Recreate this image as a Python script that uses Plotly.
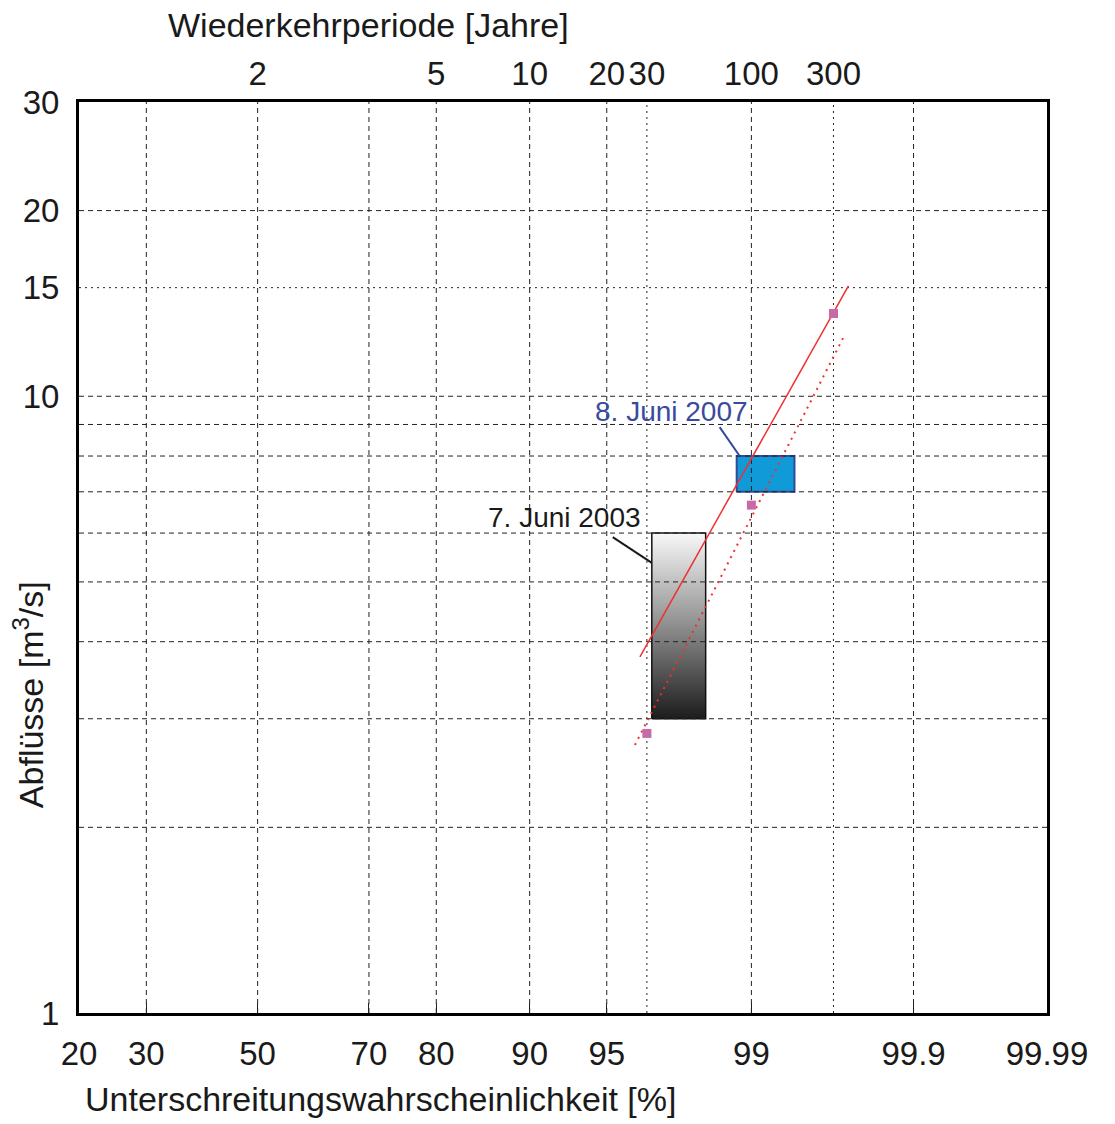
import math
from statistics import NormalDist
import plotly.graph_objects as go

# ---------------- data ----------------
prob_ticks = [20, 30, 50, 70, 80, 90, 95, 99, 99.9, 99.99]          # %
prob_labels = ["20", "30", "50", "70", "80", "90", "95", "99", "99.9", "99.99"]
period_ticks = [2, 5, 10, 20, 30, 100, 300]                          # years
period_labels = ["2", "5", "10", "20", "30", "100", "300"]
period_dotted_grid = [30, 300]
q_ticks = [1, 10, 15, 20, 30]                                        # m3/s
q_labels = ["1", "10", "15", "20", "30"]
q_grid_dashed = [2, 3, 4, 5, 6, 7, 8, 9, 10, 20]
q_grid_dotted = [15]

fit_T = [27.9, 372]            # solid red line
fit_Q = [3.78, 15.1]
fit2_T = [26.5, 346]           # dotted red line
fit2_Q = [2.72, 12.46]
pts_T = [30, 100, 300]         # markers
pts_Q = [2.84, 6.66, 13.62]

ev2003_T = [31.6, 57.5]        # event box 7. Juni 2003
ev2003_Q = [3, 6]
ev2007_T = [83.3, 175]         # event box 8. Juni 2007
ev2007_Q = [7, 8]

lab2003 = "7. Juni 2003"
lab2003_T, lab2003_Q = 28.8, 6.35
lead2003_T = [21.2, 31.6]
lead2003_Q = [5.91, 5.37]
lab2007 = "8. Juni 2007"
lab2007_T, lab2007_Q = 97.8, 9.46
lead2007_T = [67.8, 86.4]
lead2007_Q = [8.91, 8.0]

# ---------------- scales ----------------
ND = NormalDist()
def zp(p): return ND.inv_cdf(p / 100.0)
def zT(T): return ND.inv_cdf(1.0 - 1.0 / T)
def lq(q): return math.log10(q)

xr = [zp(prob_ticks[0]), zp(prob_ticks[-1])]
yr = [lq(1), lq(30)]

FONT = "Liberation Sans, Arial, Helvetica, sans-serif"
fig = go.Figure()

def box(Ts, Qs):
    x0, x1 = zT(Ts[0]), zT(Ts[1])
    y0, y1 = lq(Qs[0]), lq(Qs[1])
    return [x0, x1, x1, x0, x0], [y0, y0, y1, y1, y0]

bx, by = box(ev2003_T, ev2003_Q)
fig.add_trace(go.Scatter(x=bx, y=by, mode="lines", fill="toself",
                         fillgradient=dict(type="vertical",
                                           colorscale=[[0, "#1c1c1c"], [0.5, "#8e8e8e"], [1, "#f8f8f8"]]),
                         line=dict(color="#111111", width=1.5), hoverinfo="skip", showlegend=False))
bx, by = box(ev2007_T, ev2007_Q)
fig.add_trace(go.Scatter(x=bx, y=by, mode="lines", fill="toself", fillcolor="#109bd8",
                         line=dict(color="#34499c", width=2), hoverinfo="skip", showlegend=False))

# grid lines (drawn as traces so they lie on top of the boxes)
def grid_xy(xvals, yvals):
    gx, gy = [], []
    for v in xvals:
        gx += [v, v, None]; gy += [yr[0], yr[1], None]
    for v in yvals:
        gx += [xr[0], xr[1], None]; gy += [v, v, None]
    return gx, gy

gx, gy = grid_xy([zp(p) for p in prob_ticks[1:-1]], [lq(q) for q in q_grid_dashed])
fig.add_trace(go.Scatter(x=gx, y=gy, mode="lines", line=dict(color="#222222", width=1, dash="5px,4px"),
                         hoverinfo="skip", showlegend=False))
gx, gy = grid_xy([zT(T) for T in period_dotted_grid], [lq(q) for q in q_grid_dotted])
fig.add_trace(go.Scatter(x=gx, y=gy, mode="lines", line=dict(color="#222222", width=1, dash="2px,4px"),
                         hoverinfo="skip", showlegend=False))

# leader lines
fig.add_trace(go.Scatter(x=[zT(t) for t in lead2003_T], y=[lq(q) for q in lead2003_Q], mode="lines",
                         line=dict(color="#1a1a1a", width=2), hoverinfo="skip", showlegend=False))
fig.add_trace(go.Scatter(x=[zT(t) for t in lead2007_T], y=[lq(q) for q in lead2007_Q], mode="lines",
                         line=dict(color="#34499c", width=2), hoverinfo="skip", showlegend=False))

# fitted lines
fig.add_trace(go.Scatter(x=[zT(t) for t in fit_T], y=[lq(q) for q in fit_Q], mode="lines",
                         line=dict(color="#ee3030", width=1.5), showlegend=False))
fig.add_trace(go.Scatter(x=[zT(t) for t in fit2_T], y=[lq(q) for q in fit2_Q], mode="lines",
                         line=dict(color="#ee3030", width=2, dash="2px,5px"), showlegend=False))
fig.add_trace(go.Scatter(x=[zT(t) for t in pts_T], y=[lq(q) for q in pts_Q], mode="markers",
                         marker=dict(symbol="square", size=9, color="#c86aa8"), showlegend=False))

# invisible trace for top axis
fig.add_trace(go.Scatter(x=[zT(T) for T in period_ticks], y=[lq(1)] * len(period_ticks), xaxis="x2",
                         mode="lines", line=dict(width=0, color="rgba(0,0,0,0)"),
                         hoverinfo="skip", showlegend=False))

fig.update_layout(
    width=1107, height=1116,
    margin=dict(l=71, r=68, t=94, b=111, autoexpand=False),
    paper_bgcolor="white", plot_bgcolor="white",
    font=dict(family=FONT, size=33, color="#1a1a1a"),
    xaxis=dict(range=xr, tickmode="array", tickvals=[zp(p) for p in prob_ticks], ticktext=prob_labels,
               showgrid=False, zeroline=False, showline=True, linecolor="black", linewidth=3, mirror=True,
               ticks="inside", ticklen=10, tickwidth=1, tickcolor="#222222", ticklabelstandoff=9,
               tickfont=dict(size=33), automargin=False),
    xaxis2=dict(range=xr, overlaying="x", side="top", tickmode="array",
                tickvals=[zT(T) for T in period_ticks], ticktext=period_labels,
                showgrid=False, zeroline=False, showline=False, ticks="", ticklabelstandoff=9,
                tickfont=dict(size=33), automargin=False),
    yaxis=dict(range=yr, tickmode="array", tickvals=[lq(q) for q in q_ticks], ticktext=q_labels,
               showgrid=False, zeroline=False, showline=True, linecolor="black", linewidth=3, mirror=True,
               ticks="", ticklabelstandoff=10, tickfont=dict(size=33), automargin=False),
    annotations=[
        dict(text="Wiederkehrperiode [Jahre]", xref="paper", yref="paper", x=0.2995, y=1.0843,
             xanchor="center", yanchor="middle", showarrow=False, font=dict(size=34)),
        dict(text="Unterschreitungswahrscheinlichkeit [%]", xref="paper", yref="paper", x=0.3113, y=-0.0942,
             xanchor="center", yanchor="middle", showarrow=False, font=dict(size=34)),
        dict(text="Abflüsse [m<sup>3</sup>/s]", xref="paper", yref="paper", x=-0.0526, y=0.349,
             xanchor="center", yanchor="middle", textangle=-90, showarrow=False, font=dict(size=34)),
        dict(text=lab2007, x=zT(lab2007_T), y=lq(lab2007_Q), xref="x", yref="y", xanchor="right",
             yanchor="middle", showarrow=False, font=dict(size=28, color="#3a4a9e")),
        dict(text=lab2003, x=zT(lab2003_T), y=lq(lab2003_Q), xref="x", yref="y", xanchor="right",
             yanchor="middle", showarrow=False, font=dict(size=28, color="#1a1a1a")),
    ],
)

fig.write_html("out.html")
